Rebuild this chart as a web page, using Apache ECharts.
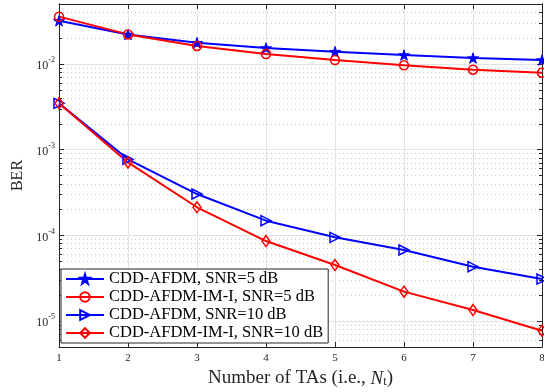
<!DOCTYPE html>
<html>
<head>
<meta charset="utf-8">
<script src="https://cdn.jsdelivr.net/npm/echarts@6/dist/echarts.min.js"></script>
<style>
  html, body { margin: 0; padding: 0; background: #fff; }
  #chart { width: 544px; height: 392px; }
</style>
</head>
<body>
<div id="chart"></div>
<script>
// Number of transmit antennas
const numTAs = [1, 2, 3, 4, 5, 6, 7, 8];

// Bit error rates
const berAfdmSnr5 = [0.0319, 0.0220, 0.0177, 0.01535, 0.0139, 0.0127, 0.0117, 0.0111];
const berImSnr5   = [0.0356, 0.0221, 0.0162, 0.01306, 0.0111, 0.00964, 0.00857, 0.0079];
const berAfdmSnr10 = [3.47e-3, 7.72e-4, 3.04e-4, 1.486e-4, 9.5e-5, 6.76e-5, 4.32e-5, 3.1e-5];
const berImSnr10   = [3.47e-3, 7.1e-4, 2.13e-4, 8.6e-5, 4.52e-5, 2.21e-5, 1.35e-5, 7.74e-6];

const seriesNames = [
  'CDD-AFDM, SNR=5 dB',
  'CDD-AFDM-IM-I, SNR=5 dB',
  'CDD-AFDM, SNR=10 dB',
  'CDD-AFDM-IM-I, SNR=10 dB'
];

// Log-scale decades shown on the BER axis
const decadeExponents = [-5, -4, -3, -2];
const minorMultipliers = [2, 3, 4, 5, 6, 7, 8, 9];
const berMin = 5e-6;
const berMax = 5e-2;

const lg = v => Math.log10(v);
const yMin = lg(berMin);
const yMax = lg(berMax);

const minorTicks = [];
for (let e = -6; e <= -2; e++) {
  for (const m of minorMultipliers) {
    const t = lg(m) + e;
    if (t > yMin && t < yMax) minorTicks.push(t);
  }
}

const starPath = 'path://M100,0 L122.45,69.1 L195.11,69.1 L136.33,111.8 L158.78,180.9 L100,138.2 L41.22,180.9 L63.67,111.8 L4.89,69.1 L77.55,69.1 Z';

const axisColor = '#262626';
const serif = 'Liberation Serif';

function toPoints(arr) {
  return numTAs.map((n, i) => [n, lg(arr[i])]);
}

function makeSeries(name, data, color, symbol, opts) {
  return Object.assign({
    name: name,
    type: 'line',
    data: toPoints(data),
    symbol: symbol,
    symbolSize: 10,
    symbolKeepAspect: true,
    lineStyle: { color: color, width: 2 },
    itemStyle: { color: 'rgba(255,255,255,0)', borderColor: color, borderWidth: 1.5 },
    emphasis: { disabled: true },
    animation: false
  }, opts || {});
}

const yLeftBase = {
  type: 'value', min: yMin, max: yMax, position: 'left',
  axisLine: { show: true, onZero: false, lineStyle: { color: axisColor, width: 1 } }
};

const chart = echarts.init(document.getElementById('chart'), null, { renderer: 'canvas' });
chart.setOption({
  animation: false,
  backgroundColor: '#fff',
  grid: { left: 59, right: 2, top: 4, bottom: 45, containLabel: false, outerBoundsMode: 'none' },
  legend: {
    orient: 'vertical',
    left: 61,
    top: 269,
    padding: [1, 5, 1, 4],
    itemGap: 0,
    itemWidth: 38,
    itemHeight: 12,
    backgroundColor: '#fff',
    borderColor: axisColor,
    borderWidth: 1,
    borderRadius: 0,
    textStyle: { fontFamily: serif, fontSize: 16.5, color: '#000', lineHeight: 18 },
    data: seriesNames
  },
  xAxis: [
    {
      type: 'value', min: 1, max: 8, interval: 1, position: 'bottom',
      axisLine: { show: true, onZero: false, lineStyle: { color: axisColor, width: 1 } },
      axisTick: { show: true, inside: true, length: 5, lineStyle: { color: axisColor } },
      axisLabel: { fontFamily: serif, fontSize: 11, color: axisColor, margin: 6 },
      splitLine: { show: true, lineStyle: { color: '#e3e3e3', width: 1 } },
      name: '{n|Number of TAs (i.e., }{i|N}{sub|t}{n|)}',
      nameLocation: 'middle',
      nameGap: 22,
      nameTextStyle: {
        rich: {
          n: { fontFamily: serif, fontSize: 19, color: axisColor },
          i: { fontFamily: serif, fontSize: 19, fontStyle: 'italic', color: axisColor },
          sub: { fontFamily: serif, fontSize: 12, color: axisColor, verticalAlign: 'bottom', padding: [7, 0, 0, 0] }
        }
      }
    },
    {
      type: 'value', min: 1, max: 8, interval: 1, position: 'top',
      axisLine: { show: true, onZero: false, lineStyle: { color: axisColor, width: 1 } },
      axisTick: { show: true, inside: true, length: 5, lineStyle: { color: axisColor } },
      axisLabel: { show: false },
      splitLine: { show: false }
    }
  ],
  yAxis: [
    Object.assign({}, yLeftBase, {
      axisTick: { show: true, inside: true, length: 5, customValues: decadeExponents, lineStyle: { color: axisColor } },
      axisLabel: {
        customValues: decadeExponents,
        margin: 4,
        formatter: v => '{b|10}{s|' + Math.round(v) + '}',
        rich: {
          b: { fontFamily: serif, fontSize: 12, color: axisColor, lineHeight: 16, verticalAlign: 'bottom' },
          s: { fontFamily: serif, fontSize: 8, color: axisColor, lineHeight: 16, verticalAlign: 'top' }
        }
      },
      splitLine: { show: true, lineStyle: { color: '#e3e3e3', width: 1 } },
      name: 'BER',
      nameLocation: 'middle',
      nameGap: 33,
      nameTextStyle: { fontFamily: serif, fontSize: 16, color: axisColor }
    }),
    Object.assign({}, yLeftBase, {
      axisTick: { show: true, inside: true, length: 3, customValues: minorTicks, lineStyle: { color: axisColor } },
      axisLabel: { show: false },
      splitLine: { show: true, lineStyle: { color: '#c9c9c9', width: 1, type: [1, 3] } }
    }),
    Object.assign({}, yLeftBase, {
      position: 'right',
      axisTick: { show: true, inside: true, length: 5, customValues: decadeExponents, lineStyle: { color: axisColor } },
      axisLabel: { show: false },
      splitLine: { show: false }
    }),
    Object.assign({}, yLeftBase, {
      position: 'right',
      axisTick: { show: true, inside: true, length: 3, customValues: minorTicks, lineStyle: { color: axisColor } },
      axisLabel: { show: false },
      splitLine: { show: false }
    })
  ],
  series: [
    makeSeries(seriesNames[0], berAfdmSnr5, '#0000ff', starPath, {
      symbolSize: 11,
      itemStyle: { color: '#0000ff', borderColor: '#0000ff', borderWidth: 1 }
    }),
    makeSeries(seriesNames[1], berImSnr5, '#ff0000', 'circle', { symbolSize: 9 }),
    makeSeries(seriesNames[2], berAfdmSnr10, '#0000ff', 'triangle', { symbolRotate: -90, symbolSize: 10 }),
    makeSeries(seriesNames[3], berImSnr10, '#ff0000', 'diamond', { symbolSize: [8, 11] })
  ]
});
</script>
</body>
</html>
